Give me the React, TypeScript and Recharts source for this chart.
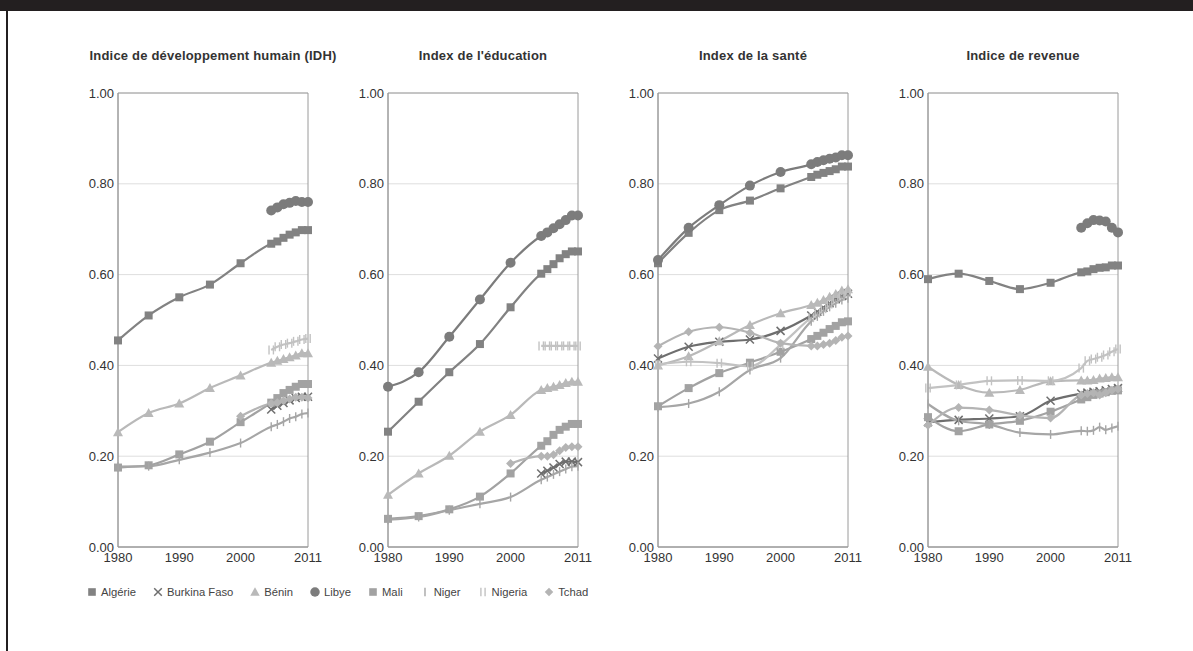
import React from "react";
import { LineChart, Line, XAxis, YAxis, CartesianGrid, ReferenceArea } from "recharts";

const YEARS = [1980, 1985, 1990, 1995, 2000, 2005, 2006, 2007, 2008, 2009, 2010, 2011];
const X_TICKS = [1980, 1990, 2000, 2011];
const Y_TICKS = [0, 0.2, 0.4, 0.6, 0.8, 1.0];
const PANEL_TITLES = [
  "Indice de développement humain (IDH)",
  "Index de l'éducation",
  "Index de la santé",
  "Indice de revenue",
];
const COUNTRIES = ["Algérie", "Burkina Faso", "Bénin", "Libye", "Mali", "Niger", "Nigeria", "Tchad"];

const N = null;

// Indice de développement humain (IDH)
const IDH_ALGERIE = [0.455, 0.51, 0.55, 0.578, 0.625, 0.668, 0.673, 0.681, 0.688, 0.693, 0.698, 0.698];
const IDH_BURKINA = [N, N, N, N, N, 0.303, 0.311, 0.317, 0.323, 0.328, 0.331, 0.331];
const IDH_BENIN = [0.253, 0.295, 0.316, 0.35, 0.378, 0.406, 0.41, 0.414, 0.418, 0.422, 0.427, 0.427];
const IDH_LIBYE = [N, N, N, N, N, 0.741, 0.748, 0.755, 0.758, 0.762, 0.76, 0.76];
const IDH_MALI = [0.175, 0.18, 0.204, 0.232, 0.275, 0.318, 0.328, 0.339, 0.346, 0.353, 0.359, 0.359];
const IDH_NIGER = [0.177, 0.178, 0.192, 0.208, 0.229, 0.265, 0.27, 0.276, 0.283, 0.287, 0.293, 0.295];
const IDH_NIGERIA = [N, N, N, N, N, 0.434, 0.441, 0.446, 0.449, 0.453, 0.457, 0.459];
const IDH_TCHAD = [N, N, N, N, 0.288, 0.316, 0.318, 0.322, 0.326, 0.33, 0.33, 0.328];

// Index de l'éducation
const EDU_ALGERIE = [0.254, 0.32, 0.385, 0.447, 0.528, 0.602, 0.612, 0.623, 0.636, 0.645, 0.651, 0.651];
const EDU_BURKINA = [N, N, N, N, N, 0.162, 0.168, 0.175, 0.183, 0.188, 0.188, 0.187];
const EDU_BENIN = [0.115, 0.162, 0.201, 0.254, 0.291, 0.346, 0.35, 0.353, 0.357, 0.361, 0.364, 0.364];
const EDU_LIBYE = [0.353, 0.385, 0.463, 0.545, 0.626, 0.685, 0.693, 0.702, 0.711, 0.72, 0.73, 0.73];
const EDU_MALI = [0.062, 0.068, 0.083, 0.111, 0.162, 0.223, 0.233, 0.247, 0.258, 0.265, 0.271, 0.271];
const EDU_NIGER = [0.06, 0.066, 0.081, 0.095, 0.11, 0.148, 0.154, 0.16, 0.166, 0.172, 0.177, 0.178];
const EDU_NIGERIA = [N, N, N, N, N, 0.443, 0.443, 0.443, 0.443, 0.443, 0.443, 0.443];
const EDU_TCHAD = [N, N, N, N, 0.184, 0.2, 0.2, 0.203, 0.212, 0.219, 0.221, 0.221];

// Index de la santé
const SAN_ALGERIE = [0.625, 0.692, 0.742, 0.763, 0.79, 0.815, 0.82, 0.824, 0.828, 0.832, 0.838, 0.838];
const SAN_BURKINA = [0.415, 0.441, 0.452, 0.457, 0.476, 0.51, 0.518, 0.527, 0.537, 0.546, 0.553, 0.558];
const SAN_BENIN = [0.4, 0.42, 0.453, 0.489, 0.515, 0.533, 0.538, 0.544, 0.551, 0.557, 0.565, 0.568];
const SAN_LIBYE = [0.632, 0.703, 0.753, 0.796, 0.826, 0.843, 0.848, 0.852, 0.855, 0.858, 0.863, 0.863];
const SAN_MALI = [0.31, 0.35, 0.383, 0.406, 0.43, 0.458, 0.465, 0.472, 0.48, 0.487, 0.495, 0.497];
const SAN_NIGER = [0.308, 0.316, 0.342, 0.39, 0.416, 0.497, 0.508, 0.519, 0.529, 0.537, 0.544, 0.548];
const SAN_NIGERIA = [0.402, 0.408, 0.405, 0.398, 0.445, 0.505, 0.515, 0.525, 0.535, 0.545, 0.553, 0.56];
const SAN_TCHAD = [0.442, 0.474, 0.484, 0.472, 0.449, 0.443, 0.443, 0.446, 0.449, 0.455, 0.462, 0.465];

// Indice de revenue
const REV_ALGERIE = [0.59, 0.602, 0.586, 0.568, 0.582, 0.605, 0.607, 0.612, 0.615, 0.616, 0.62, 0.62];
const REV_BURKINA = [0.275, 0.28, 0.283, 0.288, 0.322, 0.338, 0.34, 0.342, 0.343, 0.345, 0.348, 0.35];
const REV_BENIN = [0.397, 0.357, 0.34, 0.346, 0.365, 0.367, 0.367, 0.368, 0.371, 0.372, 0.374, 0.374];
const REV_LIBYE = [N, N, N, N, N, 0.703, 0.713, 0.72, 0.719, 0.717, 0.703, 0.693];
const REV_MALI = [0.286, 0.255, 0.27, 0.278, 0.298, 0.325, 0.33, 0.335, 0.338, 0.341, 0.344, 0.345];
const REV_NIGER = [0.315, 0.278, 0.27, 0.252, 0.248, 0.256, 0.255, 0.257, 0.264, 0.258, 0.262, 0.266];
const REV_NIGERIA = [0.35, 0.357, 0.366, 0.367, 0.366, 0.394, 0.41, 0.414, 0.418, 0.423, 0.43, 0.436];
const REV_TCHAD = [0.268, 0.307, 0.302, 0.29, 0.284, 0.335, 0.338, 0.34, 0.335, 0.34, 0.345, 0.348];

const PANEL_SERIES = [
  [IDH_ALGERIE, IDH_BURKINA, IDH_BENIN, IDH_LIBYE, IDH_MALI, IDH_NIGER, IDH_NIGERIA, IDH_TCHAD],
  [EDU_ALGERIE, EDU_BURKINA, EDU_BENIN, EDU_LIBYE, EDU_MALI, EDU_NIGER, EDU_NIGERIA, EDU_TCHAD],
  [SAN_ALGERIE, SAN_BURKINA, SAN_BENIN, SAN_LIBYE, SAN_MALI, SAN_NIGER, SAN_NIGERIA, SAN_TCHAD],
  [REV_ALGERIE, REV_BURKINA, REV_BENIN, REV_LIBYE, REV_MALI, REV_NIGER, REV_NIGERIA, REV_TCHAD],
];

const STYLES = [
  { key: "alg", shape: "square", color: "#828282" },
  { key: "bfa", shape: "x", color: "#6e6e6e" },
  { key: "ben", shape: "triangle", color: "#b9b9b9" },
  { key: "lby", shape: "circle", color: "#7c7c7c" },
  { key: "mli", shape: "square", color: "#a2a2a2" },
  { key: "ner", shape: "bar", color: "#a6a6a6" },
  { key: "nga", shape: "bars", color: "#c2c2c2" },
  { key: "tcd", shape: "diamond", color: "#b4b4b4" },
];

const FONT = "Liberation Sans, Arial, sans-serif";

function Marker({ shape, color, cx, cy, s = 1 }: any) {
  switch (shape) {
    case "square":
      return <rect x={cx - 4 * s} y={cy - 4 * s} width={8 * s} height={8 * s} fill={color} />;
    case "circle":
      return <circle cx={cx} cy={cy} r={5 * s} fill={color} />;
    case "triangle":
      return (
        <polygon
          points={`${cx},${cy - 5 * s} ${cx + 5 * s},${cy + 4 * s} ${cx - 5 * s},${cy + 4 * s}`}
          fill={color}
        />
      );
    case "diamond":
      return (
        <polygon
          points={`${cx},${cy - 4.5 * s} ${cx + 4.5 * s},${cy} ${cx},${cy + 4.5 * s} ${cx - 4.5 * s},${cy}`}
          fill={color}
        />
      );
    case "x":
      return (
        <g stroke={color} strokeWidth={1.5}>
          <line x1={cx - 4 * s} y1={cy - 4 * s} x2={cx + 4 * s} y2={cy + 4 * s} />
          <line x1={cx - 4 * s} y1={cy + 4 * s} x2={cx + 4 * s} y2={cy - 4 * s} />
        </g>
      );
    case "bar":
      return <line x1={cx} y1={cy - 4.5 * s} x2={cx} y2={cy + 4.5 * s} stroke={color} strokeWidth={1.4} />;
    case "bars":
      return (
        <g stroke={color} strokeWidth={1.4}>
          <line x1={cx - 2.2 * s} y1={cy - 4.5 * s} x2={cx - 2.2 * s} y2={cy + 4.5 * s} />
          <line x1={cx + 2.2 * s} y1={cy - 4.5 * s} x2={cx + 2.2 * s} y2={cy + 4.5 * s} />
        </g>
      );
    default:
      return <g />;
  }
}

const makeDot = (shape: string, color: string, id: string) => (props: any) => {
  const { cx, cy, value, index } = props;
  const k = `${id}-${index}`;
  if (cx == null || cy == null || value == null || Number.isNaN(cy)) return <g key={k} />;
  return (
    <g key={k}>
      <Marker shape={shape} color={color} cx={cx} cy={cy} />
    </g>
  );
};

function Panel({ pi }: { pi: number }) {
  const series = PANEL_SERIES[pi];
  const data = YEARS.map((year, i) => {
    const row: any = { year };
    STYLES.forEach((st, si) => {
      row[st.key] = series[si][i];
    });
    return row;
  });
  const tickStyle = { fontSize: 13, fill: "#333", fontFamily: FONT };
  return (
    <div style={{ position: "absolute", left: 58 + 270 * pi, top: 40, width: 290, height: 530 }}>
      <div
        style={{
          position: "absolute",
          left: 20,
          width: 270,
          top: 8,
          whiteSpace: "nowrap",
          fontFamily: FONT,
          fontWeight: "bold",
          fontSize: 13,
          letterSpacing: 0.2,
          color: "#333",
          display: "flex",
          justifyContent: "center",
        }}
      >
        <span>{PANEL_TITLES[pi]}</span>
      </div>
      <div style={{ position: "absolute", left: 0, top: 40 }}>
        <LineChart width={290} height={490} data={data} margin={{ top: 13, right: 40, left: 0, bottom: 3 }}>
          <CartesianGrid vertical={false} stroke="#dedede" />
          <XAxis
            dataKey="year"
            type="number"
            domain={[1980, 2011]}
            ticks={X_TICKS}
            tickLine={false}
            tickSize={0}
            tickMargin={6}
            height={20}
            axisLine={{ stroke: "#9a9a9a" }}
            tick={tickStyle}
            interval={0}
          />
          <YAxis
            type="number"
            domain={[0, 1]}
            ticks={Y_TICKS}
            tickFormatter={(v: number) => v.toFixed(2)}
            tickLine={false}
            tickSize={0}
            tickMargin={4}
            width={60}
            axisLine={{ stroke: "#9a9a9a" }}
            tick={tickStyle}
            interval={0}
          />
          <ReferenceArea x1={1980} x2={2011} y1={0} y2={1} fill="none" stroke="#9a9a9a" strokeWidth={1} />
          {STYLES.map((st) => (
            <Line
              key={st.key}
              dataKey={st.key}
              type="monotone"
              stroke={st.color}
              strokeWidth={2.2}
              dot={makeDot(st.shape, st.color, `${pi}-${st.key}`)}
              activeDot={false}
              isAnimationActive={false}
              connectNulls={false}
            />
          ))}
        </LineChart>
      </div>
    </div>
  );
}

function LegendRow() {
  return (
    <div
      style={{
        position: "absolute",
        left: 86,
        top: 585,
        display: "flex",
        alignItems: "center",
        fontFamily: FONT,
        fontSize: 11.25,
        color: "#444",
        whiteSpace: "nowrap",
      }}
    >
      {COUNTRIES.map((name, i) => (
        <div key={name} style={{ display: "flex", alignItems: "center", marginRight: 16 }}>
          <svg width={12} height={14} style={{ marginRight: 3 }}>
            <Marker shape={STYLES[i].shape} color={STYLES[i].color} cx={6} cy={7} s={0.95} />
          </svg>
          <span>{name}</span>
        </div>
      ))}
    </div>
  );
}

export default function App() {
  return (
    <div
      style={{
        position: "absolute",
        left: 0,
        top: 0,
        width: 1193,
        height: 651,
        background: "#ffffff",
        overflow: "hidden",
      }}
    >
      <div style={{ position: "absolute", left: 0, top: 0, width: 1193, height: 11, background: "#231f20" }} />
      <div style={{ position: "absolute", left: 6, top: 11, width: 2, height: 640, background: "#231f20" }} />
      {[0, 1, 2, 3].map((pi) => (
        <Panel key={pi} pi={pi} />
      ))}
      <LegendRow />
    </div>
  );
}
